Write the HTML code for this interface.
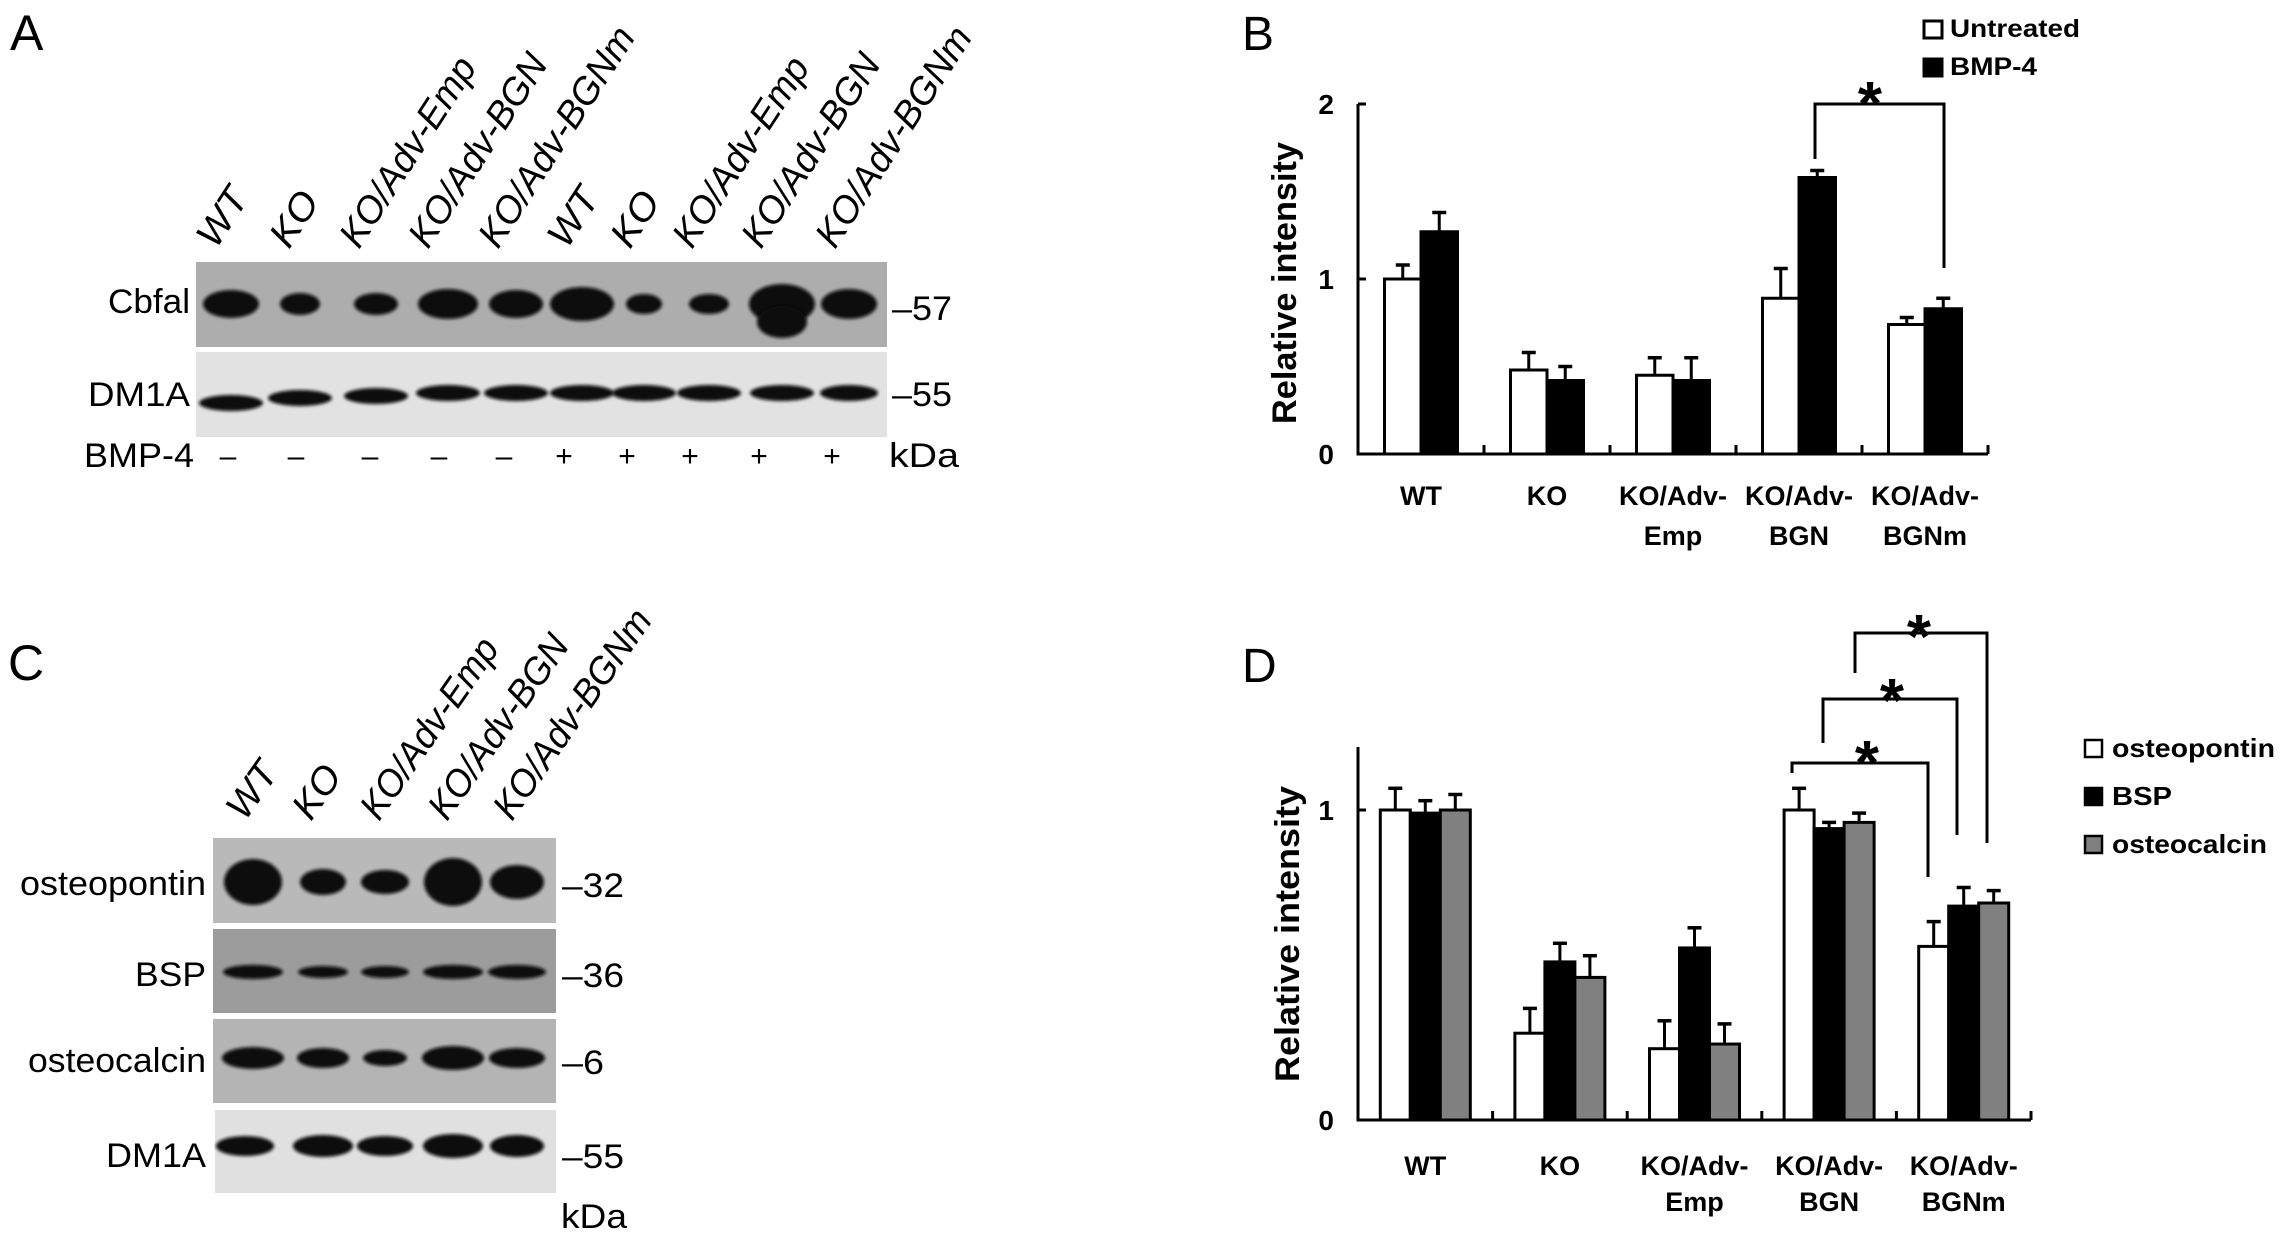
<!DOCTYPE html>
<html><head><meta charset="utf-8"><style>
html,body{margin:0;padding:0;background:#fff;}
svg{display:block;font-family:"Liberation Sans",Arial,sans-serif;}
</style></head><body>
<svg id="fig" width="2284" height="1237" viewBox="0 0 2284 1237" xmlns="http://www.w3.org/2000/svg">
<defs>
<filter id="blur" x="-50%" y="-50%" width="200%" height="200%"><feGaussianBlur stdDeviation="3"/></filter>
<filter id="blur2" x="-50%" y="-50%" width="200%" height="200%"><feGaussianBlur stdDeviation="1.5"/></filter>
</defs>
<g id="panelA"></g>
<g id="panelC"></g>
<g id="panelB"></g>
<g id="panelD"></g>
</svg>
<script>
// ---------- Panel B data ----------
const catsB = [["WT"],["KO"],["KO/Adv-","Emp"],["KO/Adv-","BGN"],["KO/Adv-","BGNm"]];
const untreatedVals = [1.0, 0.48, 0.45, 0.89, 0.74];
const untreatedErr  = [0.08, 0.10, 0.10, 0.17, 0.04];
const bmpVals = [1.27, 0.42, 0.42, 1.58, 0.83];
const bmpErr  = [0.11, 0.08, 0.13, 0.04, 0.06];
const ticksB = [0, 1, 2];
const legendB = ["Untreated", "BMP-4"];
// ---------- Panel D data ----------
const catsD = [["WT"],["KO"],["KO/Adv-","Emp"],["KO/Adv-","BGN"],["KO/Adv-","BGNm"]];
const opnVals = [1.0, 0.28, 0.23, 1.0, 0.56];
const opnErr  = [0.07, 0.08, 0.09, 0.07, 0.08];
const bspVals = [0.99, 0.51, 0.555, 0.94, 0.69];
const bspErr  = [0.04, 0.06, 0.065, 0.02, 0.06];
const ocnVals = [1.0, 0.46, 0.245, 0.96, 0.70];
const ocnErr  = [0.05, 0.07, 0.065, 0.03, 0.04];
const ticksD = [0, 1];
const legendD = ["osteopontin", "BSP", "osteocalcin"];

const NS = "http://www.w3.org/2000/svg";
function mk(parent, tag, attrs, text){
  const e = document.createElementNS(NS, tag);
  for (const k in attrs) e.setAttribute(k, attrs[k]);
  if (text !== undefined) e.textContent = text;
  parent.appendChild(e);
  return e;
}

function barChart(g, o){
  const yScale = v => o.y0 - v * o.unit;
  const gw = (o.xEnd - o.x0) / o.cats.length;
  const ya = mk(g,'line',{x1:o.x0,y1:o.yTop,x2:o.x0,y2:o.y0,stroke:'#000','stroke-width':3});
  
  
  const xa = mk(g,'line',{x1:o.x0-1.5,y1:o.y0,x2:o.xEnd,y2:o.y0,stroke:'#000','stroke-width':3});
  
  
  o.ticks.forEach(t=>{
    const y = yScale(t);
    const tk = mk(g,'line',{x1:o.x0,y1:y,x2:o.x0+8,y2:y,stroke:'#000','stroke-width':3});
    
    
    const tl = mk(g,'text',{x:o.x0-24,y:y+10,'font-size':28,'font-weight':'bold','text-anchor':'end'},String(t));
    
    
  });
  for (let i=0;i<=o.cats.length;i++){
    const x = o.x0 + i*gw;
    const tk = mk(g,'line',{x1:x,y1:o.y0,x2:x,y2:o.y0-9,stroke:'#000','stroke-width':3});
    
    
  }
  const yt = mk(g,'text',{x:0,y:0,'font-size':34,'font-weight':'bold','text-anchor':'middle',
    transform:`translate(${o.titleX},${o.titleY}) rotate(-90)`,textLength:o.titleLen,lengthAdjust:'spacingAndGlyphs'},'Relative intensity');
  
  
  const n = o.series.length;
  const groupBars = n*o.bw;
  o.cats.forEach((c,i)=>{
    const gx = o.x0 + i*gw + (gw-groupBars)/2;
    o.series.forEach((s,j)=>{
      const x = gx + j*o.bw;
      const v = s.vals[i], e = s.err[i];
      const top = yScale(v);
      const eb = mk(g,'line',{x1:x+o.bw/2,y1:top,x2:x+o.bw/2,y2:yScale(v+e),stroke:'#000','stroke-width':3});
      
      
      const cap = mk(g,'line',{x1:x+o.bw/2-7,y1:yScale(v+e),x2:x+o.bw/2+7,y2:yScale(v+e),stroke:'#000','stroke-width':3.5});
      
      
      const r = mk(g,'rect',{x:x,y:top,width:o.bw,height:o.y0-top,fill:s.fill,stroke:'#000','stroke-width':3});
      
      
    });
    const cx = o.x0 + i*gw + gw/2;
    c.forEach((ln,k)=>{
      const t = mk(g,'text',{x:cx,y:o.labY + k*o.labDy,'font-size':27,'font-weight':'bold','text-anchor':'middle'},ln);
      
      
    });
  });
}

function star(g, x, y){
  const s = mk(g,'text',{x:x,y:y+36,'font-size':62,'font-weight':'bold','text-anchor':'middle'},'*');
  
  
}
function bracket(g, x1, x2, y, yl, yr){
  const p = mk(g,'path',{d:`M${x1},${yl} L${x1},${y} L${x2},${y} L${x2},${yr}`,fill:'none',stroke:'#000','stroke-width':3});
  
  
}

// Panel B
const gB = document.getElementById('panelB');
const lb = mk(gB,'text',{x:1242,y:50,'font-size':48},'B');


barChart(gB,{cats:catsB,x0:1358,xEnd:1988,y0:454,yTop:104,unit:175,ticks:ticksB,bw:36.5,
  titleX:1296,titleY:283,titleLen:282,labY:505,labDy:40,
  series:[{key:'untreated',vals:untreatedVals,err:untreatedErr,fill:'#fff'},{key:'bmp4',vals:bmpVals,err:bmpErr,fill:'#000'}]});
bracket(gB,1815,1944,104,159,268);
star(gB,1870,89);
[['#fff',20],['#000',58]].forEach((l,i)=>{
  const sq = mk(gB,'rect',{x:1924,y:l[1]+1,width:18,height:17,fill:l[0],stroke:'#000','stroke-width':3});
  
  
  const t = mk(gB,'text',{x:1950,y:l[1]+17,'font-size':25,'font-weight':'bold',textLength:i==0?130:87,lengthAdjust:'spacingAndGlyphs'},legendB[i]);
  
  
});

// Panel D
const gD = document.getElementById('panelD');
const ld = mk(gD,'text',{x:1242,y:682,'font-size':48},'D');


barChart(gD,{cats:catsD,x0:1358,xEnd:2031,y0:1120,yTop:747,unit:310,ticks:ticksD,bw:30,
  titleX:1299,titleY:934,titleLen:296,labY:1175,labDy:36,
  series:[{key:'osteopontin',vals:opnVals,err:opnErr,fill:'#fff'},{key:'bsp',vals:bspVals,err:bspErr,fill:'#000'},{key:'osteocalcin',vals:ocnVals,err:ocnErr,fill:'#808080'}]});
bracket(gD,1792,1928,763,773,877); star(gD,1867,748);
bracket(gD,1823,1957,699,743,835); star(gD,1892,686);
bracket(gD,1855,1987,633,673,843); star(gD,1919,622);
[['#fff',740,163],['#000',788,60],['#808080',836,155]].forEach((l,i)=>{
  const sq = mk(gD,'rect',{x:2085,y:l[1],width:17,height:17,fill:l[0],stroke:'#000','stroke-width':2.5});
  
  
  const t = mk(gD,'text',{x:2112,y:l[1]+17,'font-size':26,'font-weight':'bold',textLength:l[2],lengthAdjust:'spacingAndGlyphs'},legendD[i]);
  
  
});

// ---------- Blots ----------
function blot(g, name, x, y, w, h, bg){
  const r = mk(g,'rect',{x:x,y:y,width:w,height:h,fill:bg});
  
  
}
function band(g, cx, cy, rx, ry){
  const e = mk(g,'ellipse',{cx:cx,cy:cy,rx:rx,ry:ry,fill:'#0a0a0a',filter:'url(#blur2)'});
  
  
}
function txt(g, name, x, y, size, s, anchor, extra){
  const a = Object.assign({x:x,y:y,'font-size':size,'text-anchor':anchor||'start'}, extra||{});
  const t = mk(g,'text',a,s);
  
  
  return t;
}

// Panel A
const gA = document.getElementById('panelA');
txt(gA,'panel-label-a',10,50,50,'A');
const lanesA = ["WT","KO","KO/Adv-Emp","KO/Adv-BGN","KO/Adv-BGNm","WT","KO","KO/Adv-Emp","KO/Adv-BGN","KO/Adv-BGNm"];
const lanesAx = [216,289,359,428,498,567,630,692,761,835];
const lenA = {"WT":62,"KO":58,"KO/Adv-Emp":218,"KO/Adv-BGN":222,"KO/Adv-BGNm":254};
lanesA.forEach((l,i)=>{
  txt(gA,'lane-label',0,0,38,l,'start',{'font-style':'italic',transform:`translate(${lanesAx[i]},250) rotate(-57)`,textLength:lenA[l],lengthAdjust:'spacingAndGlyphs'});
});
blot(gA,'cbfa1-blot',196,262,691,85,'#adadad');
blot(gA,'dm1a-blot-a',196,352,691,85,'#e2e2e2');
const bandAx = [231,300,376,448,516,582,644,709,782,849];
const bandArx = [28,20,22,30,27,32,18,20,33,28];
const bandAry = [14,11,11,15,14,17,10,10,20,15];
bandAx.forEach((x,i)=>{ band(gA,x,304,bandArx[i],bandAry[i]); });
band(gA,782,322,25,16);
const dmY = [403,398,396,393,393,393,393,393,393,393];
bandAx.forEach((x,i)=>{ band(gA,x,dmY[i],i==9?29:32,8); });
txt(gA,'row-label-cbfa1',190,313,34,'Cbfal','end',{textLength:82,lengthAdjust:'spacingAndGlyphs'});
txt(gA,'row-label-dm1a',190,406,34,'DM1A','end',{textLength:102,lengthAdjust:'spacingAndGlyphs'});
txt(gA,'mw-marker-57',892,320,34,'–57','start',{textLength:60,lengthAdjust:'spacingAndGlyphs'});
txt(gA,'mw-marker-55',892,406,34,'–55','start',{textLength:60,lengthAdjust:'spacingAndGlyphs'});
txt(gA,'treatment-label-bmp4',84,467,34,'BMP-4','start',{textLength:110,lengthAdjust:'spacingAndGlyphs'});
const signsA = ["–","–","–","–","–","+","+","+","+","+"];
const signAx = [228,296,370,439,504,564,627,690,759,832];
signsA.forEach((s,i)=>{ txt(gA,'bmp4-sign',signAx[i],466,30,s,'middle'); });
txt(gA,'unit-kda-a',889,467,34,'kDa','start',{textLength:70,lengthAdjust:'spacingAndGlyphs'});

// Panel C
const gC = document.getElementById('panelC');
txt(gC,'panel-label-c',8,680,50,'C');
const lanesC = ["WT","KO","KO/Adv-Emp","KO/Adv-BGN","KO/Adv-BGNm"];
const lanesCx = [245,311,379,447,512];
lanesC.forEach((l,i)=>{
  txt(gC,'lane-label',0,0,38,l,'start',{'font-style':'italic',transform:`translate(${lanesCx[i]},822) rotate(-55)`,textLength:lenA[l]*0.97,lengthAdjust:'spacingAndGlyphs'});
});
blot(gC,'osteopontin-blot',213,838,343,85,'#b9b9b9');
blot(gC,'bsp-blot',213,929,343,84,'#9c9c9c');
blot(gC,'osteocalcin-blot',213,1019,343,84,'#b4b4b4');
blot(gC,'dm1a-blot-c',215,1110,341,83,'#e0e0e0');
const bandCx = [253,323,385,453,517];
[[29,23],[23,13],[24,12],[29,24],[27,17]].forEach((s,i)=>{ band(gC,bandCx[i],882,s[0],s[1]); });
[[30,7],[25,6],[24,6],[30,7],[29,7]].forEach((s,i)=>{ band(gC,bandCx[i],972,s[0],s[1]); });
[[31,11],[26,10],[22,8],[31,12],[28,10]].forEach((s,i)=>{ band(gC,bandCx[i],1058,s[0],s[1]); });
[[29,10],[30,11],[28,10],[30,12],[27,11]].forEach((s,i)=>{ band(gC,bandCx[i]+(i==0?-8:0),1146,s[0],s[1]); });
txt(gC,'row-label-osteopontin',206,895,34,'osteopontin','end',{textLength:186,lengthAdjust:'spacingAndGlyphs'});
txt(gC,'row-label-bsp',206,986,34,'BSP','end',{textLength:71,lengthAdjust:'spacingAndGlyphs'});
txt(gC,'row-label-osteocalcin',206,1072,34,'osteocalcin','end',{textLength:178,lengthAdjust:'spacingAndGlyphs'});
txt(gC,'row-label-dm1a',206,1167,34,'DM1A','end',{textLength:100,lengthAdjust:'spacingAndGlyphs'});
txt(gC,'mw-marker-32',562,897,34,'–32','start',{textLength:62,lengthAdjust:'spacingAndGlyphs'});
txt(gC,'mw-marker-36',562,987,34,'–36','start',{textLength:62,lengthAdjust:'spacingAndGlyphs'});
txt(gC,'mw-marker-6',562,1074,34,'–6','start',{textLength:42,lengthAdjust:'spacingAndGlyphs'});
txt(gC,'mw-marker-55',562,1168,34,'–55','start',{textLength:62,lengthAdjust:'spacingAndGlyphs'});
txt(gC,'unit-kda-c',561,1228,34,'kDa','start',{textLength:66,lengthAdjust:'spacingAndGlyphs'});
</script>
</body></html>
